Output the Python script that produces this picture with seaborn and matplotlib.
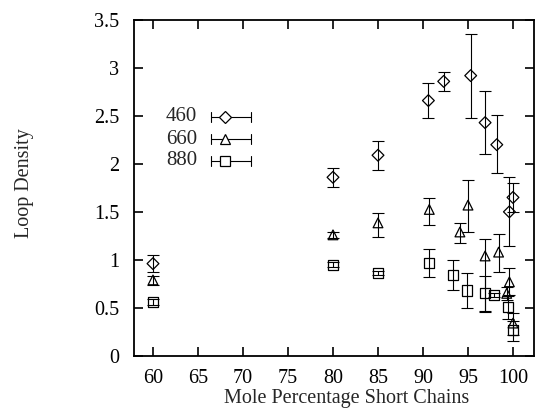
import numpy as np
import pandas as pd
import matplotlib
matplotlib.use("Agg")
import matplotlib.pyplot as plt
import seaborn as sns

# ---- data ----
x460 = [60, 80, 85, 90.6, 92.3, 95.3, 96.9, 98.2, 99.6, 100]
y460 = [0.96, 1.86, 2.09, 2.66, 2.86, 2.92, 2.43, 2.20, 1.50, 1.65]
lo460 = [0.875, 1.76, 1.94, 2.48, 2.76, 2.48, 2.10, 1.90, 1.14, 1.50]
hi460 = [1.05, 1.96, 2.24, 2.84, 2.96, 3.35, 2.76, 2.51, 1.86, 1.80]

x660 = [60, 80, 85, 90.7, 94.1, 95.0, 96.9, 98.4, 99.3, 99.6, 100]
y660 = [0.79, 1.26, 1.385, 1.525, 1.29, 1.57, 1.04, 1.08, 0.65, 0.77, 0.34]
lo660 = [0.74, 1.23, 1.24, 1.36, 1.18, 1.29, 0.46, 0.875, 0.58, 0.63, 0.22]
hi660 = [0.83, 1.29, 1.49, 1.64, 1.38, 1.83, 1.22, 1.27, 0.72, 0.91, 0.45]

x880 = [60, 80, 85, 90.7, 93.3, 94.9, 96.9, 97.9, 99.4, 100]
y880 = [0.56, 0.95, 0.86, 0.97, 0.84, 0.68, 0.65, 0.63, 0.51, 0.27]
lo880 = [0.53, 0.92, 0.84, 0.82, 0.68, 0.50, 0.47, 0.61, 0.38, 0.15]
hi880 = [0.59, 0.98, 0.88, 1.11, 1.00, 0.86, 0.83, 0.65, 0.62, 0.36]

labels = ["460", "660", "880"]
xticks = [60, 65, 70, 75, 80, 85, 90, 95, 100]
yticks = [0, 0.5, 1, 1.5, 2, 2.5, 3, 3.5]
ytick_labels = ["0", "0.5", "1", "1.5", "2", "2.5", "3", "3.5"]

sns.set_theme(style="ticks")
plt.rcParams["font.family"] = ["Liberation Serif", "DejaVu Serif"]
plt.rcParams["axes.linewidth"] = 1.3

FS = 14.5

fig = plt.figure(figsize=(5.35, 4.12), dpi=100)
ax = fig.add_axes([134 / 535, 1 - 355.7 / 412, 400 / 535, (355.7 - 20) / 412])

series = [
    (x460, y460, lo460, hi460, "D", 6.0),
    (x660, y660, lo660, hi660, "^", 7.0),
    (x880, y880, lo880, hi880, "s", 7.3),
]

for (xs, ys, lo, hi, mk, ms), lab in zip(series, labels):
    ys_a = np.array(ys)
    err = np.vstack([ys_a - np.array(lo), np.array(hi) - ys_a])
    ax.errorbar(xs, ys, yerr=err, fmt="none", ecolor="black", elinewidth=0.8,
                capsize=4, capthick=0.8, zorder=2)
    df = pd.DataFrame({"x": xs, "y": ys})
    sns.scatterplot(data=df, x="x", y="y", marker=mk, s=ms ** 2, color="none",
                    edgecolor="black", linewidth=0.9, ax=ax, legend=False, zorder=3)

ax.set_xlim(58 - 1 / 9, 58 + 399 / 9)
ax.set_ylim(0, 3.5)
ax.set_xticks(xticks)
ax.set_xticklabels([str(t) for t in xticks])
ax.set_yticks(yticks)
ax.set_yticklabels(ytick_labels)
ax.tick_params(direction="in", length=6.5, width=1.2, top=True, right=True,
               labelsize=FS, colors="black")
ax.tick_params(axis="y", pad=10.5)
ax.tick_params(axis="x", pad=9.5)
for s in ax.spines.values():
    s.set_visible(True)
    s.set_color("black")

ax.set_xlabel("")
ax.set_ylabel("")
fig.text(346.7 / 535, 1 - 403 / 412, "Mole Percentage Short Chains",
         ha="center", va="baseline", fontsize=FS)
fig.text(25 / 535, 1 - 183 / 412, "Loop Density", ha="center", va="center",
         rotation=90, fontsize=FS)

# ---- gnuplot style key ----
key_rows = [(116.7, "D", 6.0), (139.0, "^", 7.0), (160.5, "s", 7.3)]
for (ypix, mk, ms), lab in zip(key_rows, labels):
    yf = 1 - ypix / 412
    fig.text(197 / 535, yf, lab, ha="right", va="center", fontsize=FS + 0.5)
    x0, x1, xm = 211 / 535, 251 / 535, 225 / 535
    fig.add_artist(plt.Line2D([x0, x1], [yf, yf], color="black", lw=0.8,
                              transform=fig.transFigure))
    for xc in (x0, x1):
        fig.add_artist(plt.Line2D([xc, xc], [yf - 5 / 412, yf + 5 / 412], color="black",
                                  lw=0.8, transform=fig.transFigure))
    fig.add_artist(plt.Line2D([xm], [yf], marker=mk, ms=ms, mfc="white", mec="black",
                              mew=0.9, transform=fig.transFigure))

fig.savefig("out.png", dpi=100)
